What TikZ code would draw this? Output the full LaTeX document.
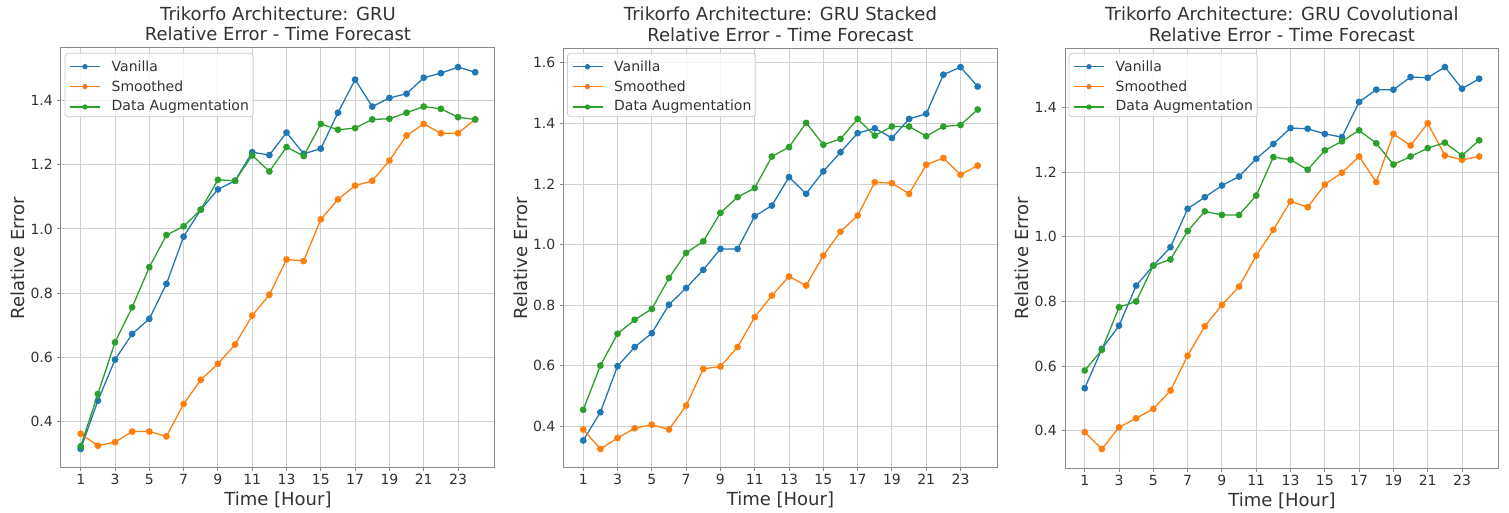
\documentclass[tikz,border=0pt]{standalone}
\usepackage{fontspec}
\setmainfont{DejaVu Sans}
\definecolor{tabblue}{HTML}{1F77B4}
\definecolor{taborange}{HTML}{FF7F0E}
\definecolor{tabgreen}{HTML}{2CA02C}
\definecolor{gridc}{HTML}{D0D0D0}
\definecolor{framec}{HTML}{8A8A8A}
\definecolor{txt}{HTML}{333333}
\definecolor{legc}{HTML}{CCCCCC}
\tikzset{
  gridline/.style={draw=gridc, line width=0.9pt},
  tickline/.style={draw=framec, line width=0.9pt},
  axisframe/.style={draw=framec, line width=1pt},
  ticklabel/.style={font=\fontsize{14}{16}\selectfont, text=txt, inner sep=0pt},
  titletext/.style={font=\fontsize{18}{21}\selectfont, text=txt, inner sep=0pt, anchor=base},
  axislabel/.style={font=\fontsize{18}{21}\selectfont, text=txt, inner sep=0pt},
  legtext/.style={font=\fontsize{14}{16}\selectfont, text=txt, inner sep=0pt, anchor=west},
  legendbox/.style={draw=legc, line width=0.8pt, fill=white, fill opacity=0.8, rounded corners=3pt},
  series/.style={line width=1.3pt, mark=*, mark size=2.7pt, mark options={solid}},
  vanil/.style={color=tabblue},
  smoo/.style={color=taborange},
  dataaug/.style={color=tabgreen},
}
% #1 prefix, #2 ymin, #3 ymax, #4 ytick list, #5 title line 1, #6 vanilla, #7 smoothed, #8 data augmentation
\newcommand{\mypanel}[8]{%
  \foreach \h in {1,3,...,23} {
    \draw[gridline] (\h,#2) -- (\h,#3);
    \draw[tickline] (\h,#2) -- ++(0pt,-3.5pt);
    \node[ticklabel, anchor=base, yshift=-17pt] (#1x\h) at (\h,#2) {\h};
  }
  \foreach \v [count=\i] in {#4} {
    \draw[gridline] (-0.15,\v) -- (25.15,\v);
    \draw[tickline] (-0.15,\v) -- ++(-3.5pt,0pt);
    \node[ticklabel, anchor=east, xshift=-8pt] (#1y\i) at (-0.15,\v) {\v};
  }
  \draw[vanil, series] plot coordinates {#6};
  \draw[smoo, series] plot coordinates {#7};
  \draw[dataaug, series] plot coordinates {#8};
  \draw[axisframe] (-0.15,#2) rectangle (25.15,#3);
  \coordinate (#1tl) at (-0.15,#3);
  \coordinate (#1bl) at (-0.15,#2);
  \draw[legendbox] ([xshift=4pt,yshift=-5.3pt]#1tl) rectangle ([xshift=192.3pt,yshift=-68.7pt]#1tl);
  \foreach \st/\yy/\lab/\nm in {vanil/18.7/Vanilla/a, smoo/38.6/Smoothed/b, dataaug/59.0/Data Augmentation/c} {
    \draw[\st, line width=1.3pt] ([xshift=9pt,yshift=-\yy pt]#1tl) -- ([xshift=39pt,yshift=-\yy pt]#1tl);
    \fill[\st] ([xshift=24pt,yshift=-\yy pt]#1tl) circle (2.7pt);
    \node[legtext] (#1leg\nm) at ([xshift=50.5pt,yshift=-\yy pt]#1tl) {\lab};
  }
  \node[titletext] (#1t1) at ([yshift=27.3pt]12.5,#3) {#5};
  \node[titletext] (#1t2) at ([yshift=7pt]12.5,#3) {Relative Error - Time Forecast};
  \node[axislabel, anchor=base] (#1xl) at ([yshift=-38pt]12.5,#2) {Time [Hour]};
  \node[axislabel, xshift=-43pt, yshift=210pt, rotate=90] (#1yl) at (#1bl) {Relative Error};
}
\begin{document}
\begin{tikzpicture}[x=1pt,y=1pt]
\useasboundingbox (0,0) rectangle (1509,513);
\fill[white] (0,0) rectangle (1509,513);

\begin{scope}[xshift=63.57pt, yshift=-37.04pt, x=17.15pt, y=321.1pt]
\mypanel{p}{0.2555}{1.5635}{0.4,0.6,0.8,1.0,1.2,1.4}{Trikorfo Architecture: GRU}
{(1,0.315)(2,0.465)(3,0.593)(4,0.673)(5,0.72)(6,0.829)(7,0.976)(8,1.06)(9,1.123)(10,1.15)(11,1.239)(12,1.23)(13,1.30)(14,1.234)(15,1.25)(16,1.362)(17,1.465)(18,1.381)(19,1.408)(20,1.421)(21,1.471)(22,1.485)(23,1.504)(24,1.488)}
{(1,0.362)(2,0.325)(3,0.336)(4,0.369)(5,0.369)(6,0.354)(7,0.455)(8,0.53)(9,0.58)(10,0.64)(11,0.73)(12,0.795)(13,0.905)(14,0.90)(15,1.03)(16,1.092)(17,1.135)(18,1.15)(19,1.213)(20,1.291)(21,1.327)(22,1.298)(23,1.298)(24,1.341)}
{(1,0.323)(2,0.486)(3,0.647)(4,0.756)(5,0.881)(6,0.981)(7,1.008)(8,1.06)(9,1.153)(10,1.15)(11,1.229)(12,1.179)(13,1.255)(14,1.227)(15,1.327)(16,1.309)(17,1.314)(18,1.341)(19,1.343)(20,1.362)(21,1.381)(22,1.374)(23,1.348)(24,1.341)}
\end{scope}

\begin{scope}[xshift=566.07pt, yshift=-34.69pt, x=17.15pt, y=303.0pt]
\mypanel{q}{0.263}{1.649}{0.4,0.6,0.8,1.0,1.2,1.4,1.6}{Trikorfo Architecture: GRU Stacked}
{(1,0.354)(2,0.447)(3,0.599)(4,0.662)(5,0.708)(6,0.802)(7,0.857)(8,0.917)(9,0.986)(10,0.986)(11,1.094)(12,1.129)(13,1.223)(14,1.168)(15,1.242)(16,1.305)(17,1.368)(18,1.384)(19,1.352)(20,1.415)(21,1.432)(22,1.561)(23,1.586)(24,1.522)}
{(1,0.39)(2,0.326)(3,0.362)(4,0.394)(5,0.406)(6,0.39)(7,0.469)(8,0.59)(9,0.598)(10,0.662)(11,0.761)(12,0.832)(13,0.895)(14,0.865)(15,0.964)(16,1.043)(17,1.096)(18,1.206)(19,1.203)(20,1.168)(21,1.264)(22,1.286)(23,1.231)(24,1.261)}
{(1,0.455)(2,0.601)(3,0.706)(4,0.752)(5,0.788)(6,0.890)(7,0.973)(8,1.011)(9,1.105)(10,1.157)(11,1.187)(12,1.291)(13,1.322)(14,1.402)(15,1.330)(16,1.349)(17,1.415)(18,1.360)(19,1.390)(20,1.390)(21,1.358)(22,1.390)(23,1.395)(24,1.446)}
\end{scope}

\begin{scope}[xshift=1067.57pt, yshift=-46.68pt, x=17.15pt, y=322.8pt]
\mypanel{r}{0.284}{1.585}{0.4,0.6,0.8,1.0,1.2,1.4}{Trikorfo Architecture: GRU Covolutional}
{(1,0.531)(2,0.653)(3,0.725)(4,0.849)(5,0.911)(6,0.968)(7,1.087)(8,1.123)(9,1.159)(10,1.187)(11,1.242)(12,1.288)(13,1.337)(14,1.335)(15,1.319)(16,1.309)(17,1.418)(18,1.456)(19,1.456)(20,1.495)(21,1.493)(22,1.526)(23,1.459)(24,1.49)}
{(1,0.395)(2,0.343)(3,0.410)(4,0.438)(5,0.467)(6,0.524)(7,0.632)(8,0.723)(9,0.789)(10,0.846)(11,0.942)(12,1.022)(13,1.110)(14,1.092)(15,1.162)(16,1.199)(17,1.249)(18,1.170)(19,1.319)(20,1.283)(21,1.352)(22,1.252)(23,1.239)(24,1.249)}
{(1,0.586)(2,0.650)(3,0.782)(4,0.800)(5,0.911)(6,0.930)(7,1.018)(8,1.079)(9,1.068)(10,1.068)(11,1.128)(12,1.247)(13,1.239)(14,1.208)(15,1.268)(16,1.296)(17,1.330)(18,1.290)(19,1.224)(20,1.249)(21,1.275)(22,1.292)(23,1.252)(24,1.299)}
\end{scope}
\end{tikzpicture}
\end{document}
